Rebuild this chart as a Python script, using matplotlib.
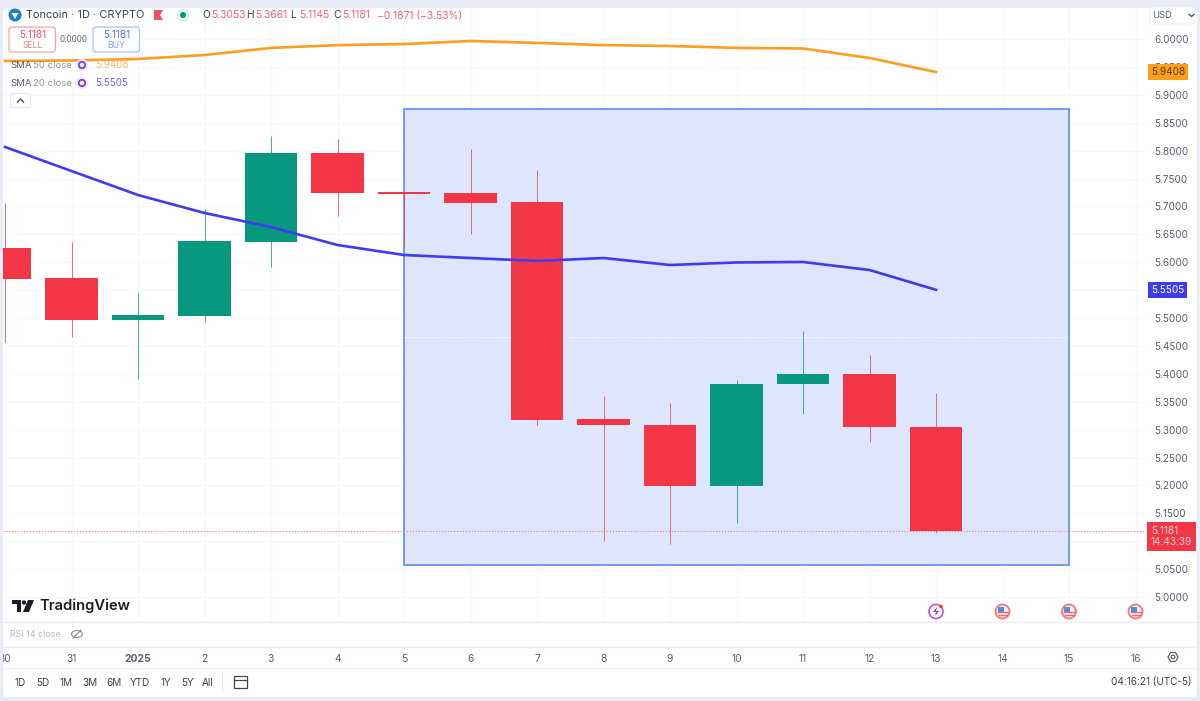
import matplotlib
matplotlib.use("Agg")
import matplotlib.pyplot as plt
import numpy as np
from matplotlib.patches import Rectangle, FancyBboxPatch, Circle, Polygon, Ellipse

plt.rcParams['font.family'] = ['Inter', 'DejaVu Sans']

# Daily candles, 30 Dec to 13 Jan
day_labels = ['30', '31', '2025', '2', '3', '4', '5', '6', '7', '8', '9', '10', '11', '12', '13', '14', '15', '16']
opens = [5.6254, 5.5717, 5.4964, 5.5036, 5.636, 5.796, 5.7236, 5.724, 5.708, 5.319, 5.308, 5.199, 5.382, 5.400, 5.3053]
highs = [5.706, 5.636, 5.545, 5.695, 5.826, 5.821, 5.7236, 5.803, 5.765, 5.360, 5.348, 5.389, 5.477, 5.434, 5.3661]
lows = [5.457, 5.466, 5.391, 5.493, 5.591, 5.683, 5.627, 5.651, 5.308, 5.100, 5.095, 5.133, 5.328, 5.278, 5.1145]
closes = [5.5699, 5.4964, 5.505, 5.638, 5.796, 5.724, 5.722, 5.706, 5.317, 5.308, 5.199, 5.382, 5.400, 5.305, 5.1181]

sma50 = [5.9606, 5.9615, 5.9642, 5.9713, 5.984, 5.989, 5.991, 5.9964, 5.993, 5.989, 5.9875, 5.984, 5.983, 5.966, 5.9408]
sma20 = [5.8065, 5.7634, 5.7204, 5.6882, 5.663, 5.6308, 5.6129, 5.6075, 5.6022, 5.6075, 5.595, 5.5995, 5.6004, 5.586, 5.5505]

range_days = [6, 16]
range_prices = [5.0573, 5.8746]
range_level = 5.466
price_ticks = np.arange(5.0, 6.01, 0.05)
# these two sit fully under the price tags in the original
hidden_ticks = ['5.1000', '5.5500']
event_days = [14, 15, 16, 17]
range_buttons = ['1D', '5D', '1M', '3M', '6M', 'YTD', '1Y', '5Y', 'All']
button_x = [20, 43, 66, 90, 114, 140, 166, 188, 208]

RED = '#f33645'
GREEN = '#07987f'
ORANGE = '#ff9d1e'
BLUE = '#3f3cf0'
TEXT = '#5a6070'

fig = plt.figure(figsize=(12, 7.01), dpi=100, facecolor='#e9ebf6')


def px_axes(zorder):
    a = fig.add_axes([0, 0, 1, 1], zorder=zorder)
    a.set_xlim(0, 1200)
    a.set_ylim(701, 0)
    a.axis('off')
    a.patch.set_alpha(0)
    return a


# white card behind everything
back = px_axes(0)
back.add_patch(FancyBboxPatch((6, 11), 1188, 683, boxstyle='round,pad=3,rounding_size=5', fc='white', ec='none'))

# price pane
ax = fig.add_axes([3 / 1200, 1 - 622 / 701, 1142 / 1200, 614 / 701], zorder=1)
ax.patch.set_alpha(0)
ax.set_xlim((3 - 5) / 66.5, (1145 - 5) / 66.5)
ax.set_ylim(6 - (622 - 39) / 558, 6 - (8 - 39) / 558)
for s in ax.spines.values():
    s.set_visible(False)

ax.set_xticks(range(len(day_labels)))
ax.set_xticklabels(day_labels)
ax.set_yticks(price_ticks)
tick_text = [f'{p:.4f}' for p in price_ticks]
ax.set_yticklabels(['' if t in hidden_ticks else t for t in tick_text])
ax.yaxis.tick_right()
ax.tick_params(axis='y', length=0, pad=7, labelsize=7.2, labelcolor=TEXT)
ax.tick_params(axis='x', length=0, pad=23, labelsize=7.4, labelcolor=TEXT)
ax.get_xticklabels()[2].set_fontweight('bold')
ax.grid(True, color='#f6f7fa', lw=0.8)
ax.set_axisbelow(True)

# measuring box
ax.add_patch(Rectangle((range_days[0], range_prices[0]), range_days[1] - range_days[0],
                       range_prices[1] - range_prices[0], fc='#dde6fc', ec='#6f9bf6', lw=1.4, zorder=1))
ax.plot(range_days, [range_level, range_level], color='white', lw=0.7, ls=':', zorder=1.5)

# candles
for i, (o, h, l, c) in enumerate(zip(opens, highs, lows, closes)):
    col = GREEN if c >= o else RED
    ax.plot([i, i], [l, h], color=col, lw=0.7, alpha=0.75, zorder=2, solid_capstyle='butt')
    ax.add_patch(Rectangle((i - 0.395, min(o, c)), 0.79, max(abs(c - o), 0.004), fc=col, ec='none', zorder=3))

days = np.arange(len(closes))
ax.plot(days, sma50, color=ORANGE, lw=1.9, zorder=4)
ax.plot(days, sma20, color=BLUE, lw=1.9, zorder=4)

# last price line and tags
ax.axhline(closes[-1], color='#f77a85', lw=0.8, ls=':', zorder=2)
ytrans = ax.get_yaxis_transform()
for v, col, tc in [(sma50[-1], ORANGE, '#5a4010'), (sma20[-1], BLUE, 'white')]:
    ax.text(1.0052, v, f'{v:.4f}', transform=ytrans, va='center', ha='left', fontsize=7.2, color=tc, zorder=6,
            clip_on=False, bbox=dict(fc=col, ec='none', boxstyle='square,pad=0.3'))
ax.annotate(f'{closes[-1]:.4f}\n14:43:39', xy=(1.0052, closes[-1]), xycoords=ytrans, xytext=(0, -4),
            textcoords='offset points', va='center', ha='left', fontsize=7.2, color='#ffd5d8', zorder=6,
            linespacing=1.05, annotation_clip=False, bbox=dict(fc=RED, ec='none', boxstyle='square,pad=0.4'))

# everything on top, in pixels
ui = px_axes(3)
ui.add_patch(Rectangle((0, 0), 3, 701, fc='#e9ebf6', ec='none'))
for y in [622, 647, 668]:
    ui.plot([3, 1197], [y, y], color='#eceef3', lw=1)

# header
ui.add_patch(Circle((15, 15), 6.5, fc='#1c80c4', ec='none'))
ui.add_patch(Polygon([[11.5, 13], [18.5, 13], [15, 19]], fc='white', ec='none'))
ui.text(26, 15.5, 'Toncoin · 1D · CRYPTO', fontsize=7.9, color='#3a3f4c', va='center')
ui.add_patch(Polygon([[154, 10], [163, 10], [160, 15], [163, 20], [154, 20]], fc='#f4505c', ec='none'))
ui.add_patch(Circle((183, 15), 6.5, fc='#dff1ec', ec='none'))
ui.add_patch(Circle((183, 15), 3, fc=GREEN, ec='none'))
x_pos = [202, 246, 290, 333]
for x, lab, val in zip(x_pos, 'OHLC', [opens[-1], highs[-1], lows[-1], closes[-1]]):
    ui.text(x, 15.5, lab, fontsize=7.4, color='#3a3f4c', va='center')
    ui.text(x + 9, 15.5, f'{val:.4f}', fontsize=7.4, color='#f4606c', va='center')
ui.text(377, 15.5, '−0.1871 (−3.53%)', fontsize=7.4, color='#f4606c', va='center')

# sell / buy
for x0, col, val, lab in [(9, '#f5a3aa', '#f4505c', 'SELL'), (93, '#a9c0f8', '#4f7cf0', 'BUY')]:
    ui.add_patch(FancyBboxPatch((x0 + 2, 29), 42.5, 21, boxstyle='round,pad=2,rounding_size=3', fc='white', ec=col, lw=0.9))
    ui.text(x0 + 23.5, 35, f'{closes[-1]:.4f}', fontsize=7.2, color=val, ha='center', va='center')
    ui.text(x0 + 23.5, 46, lab, fontsize=6.2, color=val, ha='center', va='center', alpha=0.75)
ui.text(74, 40, '0.0000', fontsize=5.8, color=TEXT, ha='center', va='center')

# indicator legend
for y, lab, val, col in [(65, 'SMA 50 close', sma50[-1], '#ffb661'), (83, 'SMA 20 close', sma20[-1], '#6a68f0')]:
    ui.text(10, y, 'SMA', fontsize=6.9, color=TEXT, va='center')
    ui.text(33, y, lab[4:], fontsize=6.9, color='#9094a0', va='center')
    ui.add_patch(Circle((82, y), 6, fc='#efe9fb', ec='none'))
    ui.add_patch(Circle((82, y), 3.2, fc='none', ec='#7a3fe0', lw=1.3))
    ui.text(95, y, f'{val:.4f}', fontsize=7, color=col, va='center')
ui.add_patch(FancyBboxPatch((12, 95), 17, 11, boxstyle='round,pad=1.5,rounding_size=2', fc='white', ec='#e4e6ec', lw=0.8))
ui.plot([17.5, 20.5, 23.5], [102, 99, 102], color='#444a55', lw=1)

# USD box
ui.add_patch(FancyBboxPatch((1151, 8), 43, 15, boxstyle='round,pad=1,rounding_size=2', fc='white', ec='#f0f1f5', lw=0.8))
ui.text(1152, 15.5, 'USD', fontsize=6.8, color=TEXT, va='center')
ui.plot([1189, 1191.5, 1194], [14.5, 16.5, 14.5], color='#444a55', lw=0.9)

# TradingView logo
ui.add_patch(Polygon([[12, 600], [21, 600], [21, 612], [17, 612], [17, 604], [12, 604]], fc='#1a1d26', ec='none'))
ui.add_patch(Circle((24, 602.5), 2.2, fc='#1a1d26', ec='none'))
ui.add_patch(Polygon([[28, 600], [34, 600], [29, 612], [23, 612]], fc='#1a1d26', ec='none'))
ui.text(39, 606, 'TradingView', fontsize=10.6, fontweight='semibold', color='#1a1d26', va='center')

# RSI row
ui.text(10, 634.5, 'RSI 14 close', fontsize=6.4, color='#b6b9c2', va='center')
ui.add_patch(Ellipse((77, 634), 11, 7, fc='none', ec='#8b8f9a', lw=0.8))
ui.plot([73, 81], [638, 630], color='#8b8f9a', lw=0.8)

# events under the last days
for d in event_days:
    px = 5 + d * 66.5
    if d == event_days[0]:
        ui.add_patch(Circle((px, 611.5), 7, fc='white', ec='#b45ad0', lw=1.2))
        ui.add_patch(Polygon([[px + 1, 607], [px - 3, 612], [px, 612], [px - 1, 616], [px + 3, 611], [px, 611]], fc='#8a3fc0', ec='none'))
        ui.add_patch(Circle((px + 5, 606.5), 1.8, fc=RED, ec='none'))
    else:
        ui.add_patch(Circle((px, 611.5), 7, fc='#f4f4f8', ec='#f37a7f', lw=1.4))
        ui.add_patch(Rectangle((px - 5, 607), 6, 5, fc='#4a8fe8', ec='none'))
        ui.plot([px - 5, px + 5], [612, 612], color='#f0656c', lw=1)
        ui.plot([px - 4, px + 4], [615, 615], color='#f0656c', lw=1)

# bottom toolbar
for x, lab in zip(button_x, range_buttons):
    ui.text(x, 682.5, lab, fontsize=7.2, color='#3f4450', ha='center', va='center')
ui.plot([222, 222], [674, 690], color='#e4e6ec', lw=0.8)
ui.add_patch(Rectangle((234, 676), 13, 12, fc='none', ec='#3f4450', lw=0.9))
ui.plot([234, 247], [680, 680], color='#3f4450', lw=0.9)
ui.text(1192, 682.5, '04:16:21 (UTC-5)', fontsize=7.2, color='#3f4450', ha='right', va='center')
ui.add_patch(Polygon([[1168, 657], [1170.5, 652.5], [1175.5, 652.5], [1178, 657], [1175.5, 661.5], [1170.5, 661.5]],
                     fc='none', ec='#5a6070', lw=0.9))
ui.add_patch(Circle((1173, 657), 1.8, fc='none', ec='#5a6070', lw=0.9))

fig.savefig('out.png', dpi=100, facecolor=fig.get_facecolor())
